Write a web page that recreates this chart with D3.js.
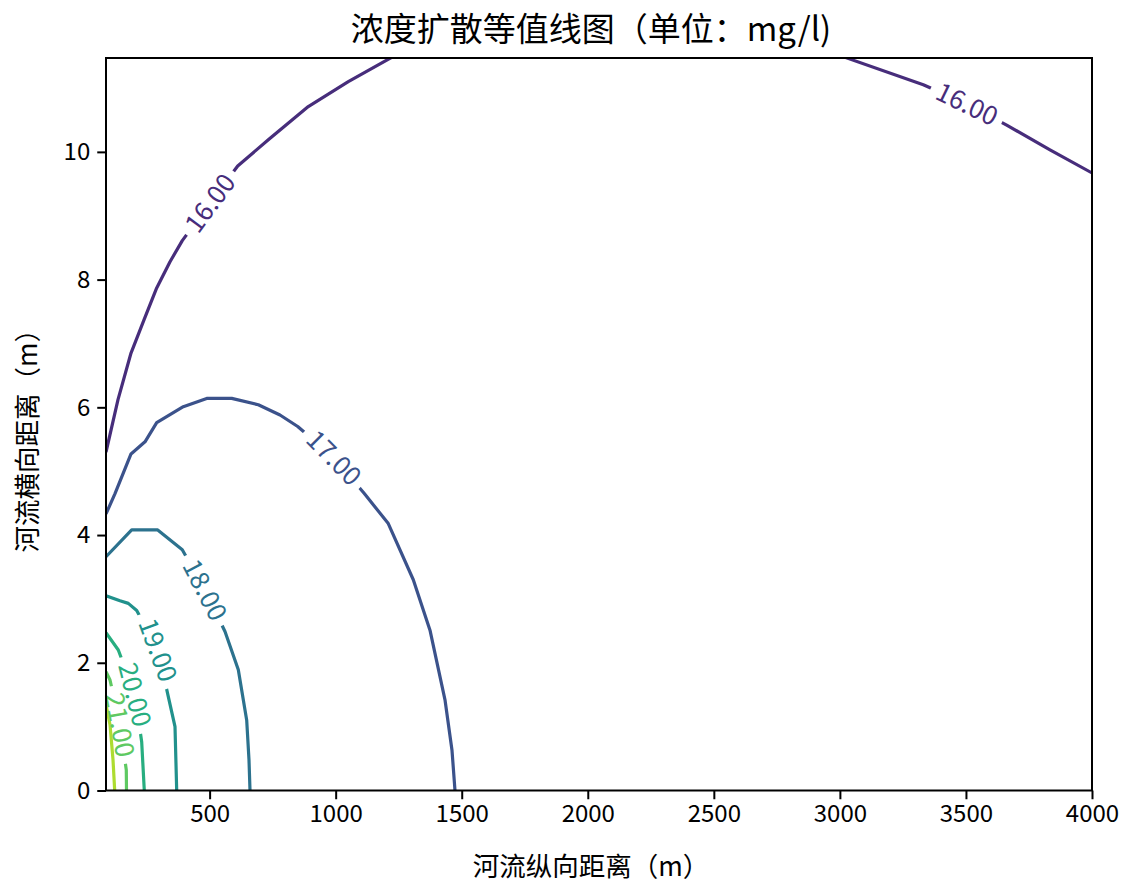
<!DOCTYPE html>
<html><head><meta charset="utf-8">
<script src="https://cdn.jsdelivr.net/npm/d3@7"></script>
<style>
body{margin:0;background:#fff}
text{font-family:"Noto Sans CJK SC","Noto Sans",sans-serif}
</style>
</head><body>
<svg id="chart" width="1131" height="884"></svg>
<script>
// ---- data ----
const levels = [16, 17, 18, 19, 20, 21, 22];
const xTicks = [500, 1000, 1500, 2000, 2500, 3000, 3500, 4000];
const yTicks = [0, 2, 4, 6, 8, 10];
const xDomain = [89, 4000];
const yDomain = [0, 11.47];

// contour lines, [x (m), y (m)] ; each level may have several pieces
const contour16 = [
  [[89,5.30],[136.6,6.12],[188.2,6.85],[239.7,7.37],[290.1,7.87],[342.9,8.28],[391.6,8.61],[501.5,9.20],[611.4,9.78],[732.8,10.19],[891.4,10.71],[1050.1,11.10],[1222.2,11.48]],
  [[3020.2,11.48],[3330.8,11.05],[3504.2,10.75],[3661.6,10.42],[3833.4,10.03],[4000,9.67]]
];
const contour17 = [
  [[89,4.33],[124.7,4.65],[188.2,5.27],[243.7,5.46],[290.1,5.76],[395.6,6.01],[488.4,6.14],[587.6,6.14],[693.1,6.04],[779.2,5.88],[849.4,5.70],[993.4,5.21],[1113.6,4.65],[1208.7,4.18],[1307.9,3.30],[1374.1,2.51],[1433.6,1.42],[1461.4,0.63],[1473.3,0]]
];
const contour18 = [
  [[89,3.66],[190.9,4.08],[294.1,4.08],[391.6,3.77],[481.7,3.14],[561.0,2.49],[613.8,1.89],[647.1,1.10],[656.2,0.48],[660.2,0]]
];
const contour19 = [
  [[89,3.05],[144.5,2.97],[177.5,2.93],[210.8,2.82],[295.3,2.20],[336.1,1.47],[362.7,1.00],[369.4,0]]
];
const contour20 = [
  [[89,2.47],[137.8,2.20],[204.0,1.50],[230.6,0.76],[240.9,0]]
];
const contour21 = [
  [[89,1.86],[104.9,1.73],[144.5,1.03],[169.5,0.32],[170.3,0]]
];
const contour22 = [
  [[89,1.34],[104.9,1.03],[116.8,0.48],[123.5,0]]
];
// label anchor points, [x, y] (on the line)
const labels16 = [[501.5,9.20],[3504.2,10.75]];
const labels17 = [[993.4,5.21]];
const labels18 = [[481.7,3.14]];
const labels19 = [[295.3,2.20]];
const labels20 = [[204.0,1.50]];
const labels21 = [[144.5,1.03]];
const labels22 = [];

const titleText = "浓度扩散等值线图（单位：mg/l)";
const xLabelText = "河流纵向距离（m）";
const yLabelText = "河流横向距离（m）";

const table = levels.map((lv, i) => ({
  level: lv,
  pieces: [contour16, contour17, contour18, contour19, contour20, contour21, contour22][i],
  labels: [labels16, labels17, labels18, labels19, labels20, labels21, labels22][i]
}));

// ---- layout ----
const W = 1131, H = 884;
const L = 106, R = 1092, T = 58, B = 790.5;
const svg = d3.select("#chart");
const x = d3.scaleLinear().domain(xDomain).range([L, R]);
const y = d3.scaleLinear().domain(yDomain).range([B, T]);
const color = d3.scaleSequential(d3.interpolateViridis).domain([15, 23]);
const fmt = d3.format(".2f");
const line = d3.line().x(d => x(d[0])).y(d => y(d[1]));

const defs = svg.append("defs");
defs.append("clipPath").attr("id", "plotclip")
  .append("rect").attr("x", L).attr("y", T).attr("width", R - L).attr("height", B - T);

const plot = svg.append("g").attr("clip-path", "url(#plotclip)");
const labelLayer = svg.append("g");
const labelSize = 26;

table.forEach(d => {
  const c = color(d.level);
  const mask = defs.append("mask").attr("id", "mask" + d.level)
    .attr("maskUnits", "userSpaceOnUse")
    .attr("x", 0).attr("y", 0).attr("width", W).attr("height", H);
  mask.append("rect").attr("x", 0).attr("y", 0).attr("width", W).attr("height", H).attr("fill", "#fff");

  plot.append("g").attr("mask", "url(#mask" + d.level + ")")
    .selectAll("path").data(d.pieces).join("path")
    .attr("d", line).attr("fill", "none").attr("stroke", c)
    .attr("stroke-width", 3.2).attr("stroke-linejoin", "round");

  d.labels.forEach(p => {
    const px = x(p[0]), py = y(p[1]);
    let best = null, bd = Infinity;
    d.pieces.forEach(pc => pc.forEach((q, i) => {
      const dd = (x(q[0]) - px) ** 2 + (y(q[1]) - py) ** 2;
      if (dd < bd) { bd = dd; best = { pc, i }; }
    }));
    const a = best.pc[Math.max(best.i - 1, 0)], b = best.pc[Math.min(best.i + 1, best.pc.length - 1)];
    let ang = Math.atan2(y(b[1]) - y(a[1]), x(b[0]) - x(a[0])) * 180 / Math.PI;
    if (ang > 90) ang -= 180;
    if (ang < -90) ang += 180;
    const t = labelLayer.append("text")
      .attr("transform", `translate(${px},${py}) rotate(${ang})`)
      .attr("text-anchor", "middle").attr("dy", "0.36em")
      .attr("font-size", labelSize).attr("fill", c)
      .text(fmt(d.level));
    const tw = t.node().getComputedTextLength();
    mask.append("rect")
      .attr("transform", `translate(${px},${py}) rotate(${ang})`)
      .attr("x", -tw / 2 - 7).attr("y", -labelSize * 0.6)
      .attr("width", tw + 14).attr("height", labelSize * 1.2)
      .attr("fill", "#000");
  });
});

// ---- axes ----
const xAxis = svg.append("g").attr("transform", `translate(0,${B})`)
  .call(d3.axisBottom(x).tickValues(xTicks).tickSize(8.75).tickPadding(6).tickFormat(d3.format("d")));
const yAxis = svg.append("g").attr("transform", `translate(${L},0)`)
  .call(d3.axisLeft(y).tickValues(yTicks).tickSize(8.75).tickPadding(7).tickFormat(d3.format("d")));
[xAxis, yAxis].forEach(g => {
  g.select(".domain").remove();
  g.selectAll(".tick line").attr("stroke", "#000").attr("stroke-width", 2);
  g.selectAll(".tick text").attr("font-size", 24).attr("fill", "#000")
    .attr("font-family", '"Noto Sans CJK SC","Noto Sans",sans-serif');
});
svg.append("rect").attr("x", L).attr("y", T).attr("width", R - L).attr("height", B - T)
  .attr("fill", "none").attr("stroke", "#000").attr("stroke-width", 2);

svg.append("text").attr("x", (L + R) / 2 - 8).attr("y", 41).attr("text-anchor", "middle")
  .attr("font-size", 33).attr("fill", "#000").text(titleText);
svg.append("text").attr("x", (L + R) / 2 - 8).attr("y", 876).attr("text-anchor", "middle")
  .attr("font-size", 26.5).attr("fill", "#000").text(xLabelText);
svg.append("text").attr("transform", `translate(37,${(T + B) / 2 + 10}) rotate(-90)`)
  .attr("text-anchor", "middle").attr("font-size", 26.5).attr("fill", "#000").text(yLabelText);
</script>
</body></html>
